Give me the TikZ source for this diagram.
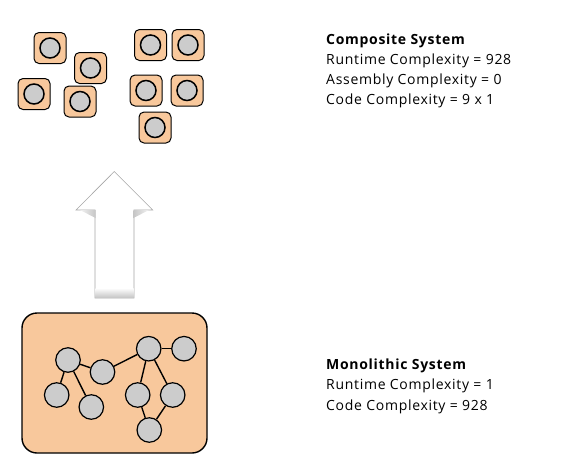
\documentclass[tikz,border=0pt]{standalone}
\usepackage{fontspec}
\setmainfont{Open Sans}[LetterSpace=5]
\usetikzlibrary{calc}
\definecolor{peach}{HTML}{F8C89C}
\definecolor{ballgray}{HTML}{CCCCCC}
\tikzset{
  px/.style={x=1pt,y=-1pt},
  comp/.style={draw=black,line width=1pt,fill=peach,rounded corners=5pt,minimum width=32pt,minimum height=31pt,inner sep=0pt},
  ball/.style={circle,draw=black,line width=1.5pt,fill=ballgray,minimum size=20pt,inner sep=0pt},
  nball/.style={circle,draw=black,line width=1.2pt,fill=ballgray,minimum size=24.5pt,inner sep=0pt},
  link/.style={line width=1.4pt,draw=black},
  txt/.style={anchor=base west,inner sep=0pt,font=\fontsize{14}{16}\selectfont},
  head/.style={txt,font=\fontsize{14}{16}\selectfont\bfseries}
}
\begin{document}
\begin{tikzpicture}[px]
\useasboundingbox (0,0) rectangle (583,472);
% composite components
\foreach \n/\cx/\cy in {c1/50/48,c2/90.5/68,c3/34/94,c4/80/101.5,c5/150.5/45,c6/188/45,c7/146/90.5,c8/187/90.5,c9/155/127.5}{
  \node[comp] (\n) at (\cx,\cy) {};
  \node[ball] (\n b) at (\n) {};
}
% arrow
\path[fill=white,draw=gray!70,line width=0.6pt] (95,298) -- (95,210) -- (76,210) -- (114.3,171.5) -- (152.7,210) -- (134,210) -- (134,298) -- cycle;
\shade[top color=white,bottom color=gray!45] (95.5,288) rectangle (133.5,297.5);
\shade[left color=gray!10,right color=gray!45] (80,210) -- (95.5,210) -- (95.5,218) -- cycle;
\shade[left color=gray!45,right color=gray!10] (133.5,210) -- (149,210) -- (133.5,218) -- cycle;
% monolithic system
\node[draw=black,line width=1.4pt,fill=peach,rounded corners=15pt,minimum width=185pt,minimum height=140pt,inner sep=0pt] (mono) at (114.5,383) {};
\node[nball] (A) at (68,360) {};
\node[nball] (B) at (102.5,372) {};
\node[nball] (C) at (148.7,348.7) {};
\node[nball] (D) at (184,348.7) {};
\node[nball] (E) at (56.7,395) {};
\node[nball] (F) at (91.3,407) {};
\node[nball] (G) at (137.7,395) {};
\node[nball] (H) at (172.7,395) {};
\node[nball] (I) at (149.3,430) {};
\foreach \a/\b in {A/B,B/C,C/D,A/E,A/F,C/G,C/H,G/I,H/I}{
  \draw[link] (\a) -- (\b);
}
% texts
\node[head] (t1) at (326,44) {Composite System};
\node[txt] (t2) at (326,64) {Runtime Complexity = 928};
\node[txt] (t3) at (326,84) {Assembly Complexity = 0};
\node[txt] (t4) at (326,104) {Code Complexity = 9 x 1};
\node[head] (m1) at (326,369) {Monolithic System};
\node[txt] (m2) at (326,389.5) {Runtime Complexity = 1};
\node[txt] (m3) at (326,410) {Code Complexity = 928};
\end{tikzpicture}
\end{document}
